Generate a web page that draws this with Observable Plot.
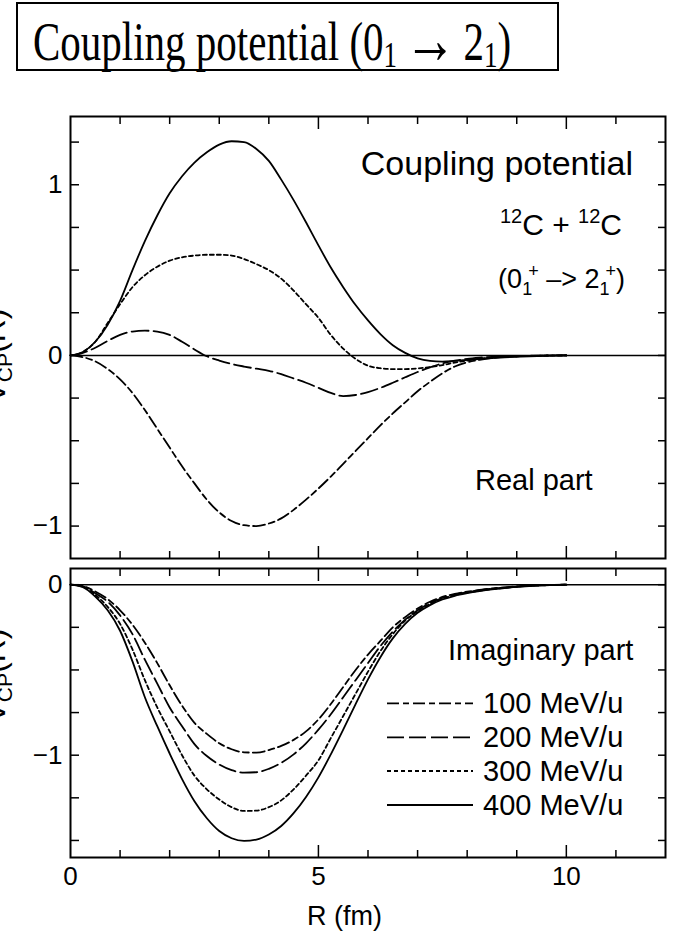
<!DOCTYPE html>
<html><head><meta charset="utf-8">
<script src="https://cdn.jsdelivr.net/npm/d3@7"></script>
<script src="https://cdn.jsdelivr.net/npm/@observablehq/plot@0.6"></script>
<style>
body{margin:0;background:#fff;}
#wrap{position:relative;width:675px;height:937px;overflow:hidden;background:#fff;}
#wrap > svg{position:absolute;left:0;}
</style></head><body><div id="wrap"></div>
<script>
// ---- data ----
const R = [0,0.25,0.5,0.75,1,1.25,1.5,1.75,2,2.25,2.5,2.75,3,3.25,3.5,3.75,4,4.25,4.5,4.75,5,5.25,5.5,5.75,6,6.25,6.5,6.75,7,7.25,7.5,7.75,8,8.25,8.5,8.75,9,9.25,9.5,9.75,10];

const energies = ["100", "200", "300", "400"];
const legendLabels = ["100 MeV/u", "200 MeV/u", "300 MeV/u", "400 MeV/u"];

// Real part
const real100 = [0,-0.01,-0.035,-0.08,-0.14,-0.22,-0.32,-0.43,-0.54,-0.65,-0.75,-0.845,-0.92,-0.97,-0.995,-1.0,-0.985,-0.955,-0.905,-0.845,-0.78,-0.71,-0.635,-0.56,-0.485,-0.41,-0.34,-0.275,-0.21,-0.155,-0.105,-0.065,-0.04,-0.026,-0.015,-0.009,-0.005,-0.003,-0.001,0,0];
const real200 = [0,0.015,0.045,0.085,0.12,0.14,0.145,0.14,0.12,0.08,0.035,-0.005,-0.03,-0.05,-0.065,-0.078,-0.09,-0.11,-0.135,-0.16,-0.19,-0.22,-0.238,-0.232,-0.215,-0.19,-0.16,-0.128,-0.097,-0.07,-0.047,-0.031,-0.02,-0.013,-0.008,-0.005,-0.003,-0.002,-0.001,0,0];
const real300 = [0,0.02,0.08,0.19,0.30,0.40,0.47,0.52,0.555,0.575,0.585,0.59,0.59,0.585,0.565,0.535,0.50,0.45,0.38,0.30,0.22,0.12,0.04,-0.02,-0.06,-0.075,-0.08,-0.08,-0.076,-0.068,-0.057,-0.042,-0.03,-0.02,-0.013,-0.008,-0.005,-0.003,-0.002,-0.001,0];
const real400 = [0,0.02,0.08,0.18,0.32,0.50,0.67,0.82,0.95,1.05,1.13,1.19,1.235,1.255,1.25,1.21,1.14,1.03,0.91,0.78,0.645,0.515,0.40,0.295,0.205,0.125,0.06,0.015,-0.017,-0.032,-0.036,-0.032,-0.026,-0.02,-0.015,-0.011,-0.008,-0.005,-0.003,-0.001,0];

// Imaginary part
const imag100 = [0,-0.008,-0.04,-0.085,-0.15,-0.235,-0.34,-0.46,-0.59,-0.71,-0.81,-0.875,-0.93,-0.965,-0.983,-0.985,-0.97,-0.945,-0.91,-0.86,-0.79,-0.70,-0.60,-0.50,-0.41,-0.33,-0.25,-0.19,-0.14,-0.1,-0.072,-0.054,-0.041,-0.031,-0.022,-0.016,-0.01,-0.006,-0.003,-0.001,0];
const imag200 = [0,-0.01,-0.05,-0.1,-0.18,-0.29,-0.44,-0.58,-0.72,-0.83,-0.935,-1.005,-1.055,-1.088,-1.102,-1.1,-1.08,-1.045,-0.995,-0.93,-0.85,-0.76,-0.66,-0.56,-0.46,-0.36,-0.275,-0.205,-0.15,-0.108,-0.078,-0.058,-0.044,-0.033,-0.024,-0.017,-0.011,-0.006,-0.003,-0.001,0];
const imag300 = [0,-0.012,-0.06,-0.13,-0.23,-0.38,-0.56,-0.72,-0.86,-1.0,-1.12,-1.2,-1.26,-1.305,-1.327,-1.325,-1.305,-1.265,-1.2,-1.12,-1.03,-0.9,-0.77,-0.64,-0.51,-0.39,-0.29,-0.21,-0.155,-0.112,-0.082,-0.061,-0.047,-0.035,-0.026,-0.018,-0.012,-0.007,-0.004,-0.002,0];
const imag400 = [0,-0.015,-0.07,-0.15,-0.27,-0.45,-0.66,-0.83,-0.99,-1.14,-1.27,-1.37,-1.445,-1.487,-1.503,-1.495,-1.465,-1.415,-1.34,-1.245,-1.13,-0.995,-0.85,-0.70,-0.555,-0.425,-0.315,-0.23,-0.165,-0.12,-0.087,-0.065,-0.05,-0.038,-0.028,-0.02,-0.013,-0.008,-0.004,-0.002,0];

// tick values
const xMinorTicks = [1,2,3,4,6,7,8,9,11];
const xMajorTicks = [5,10];
const xTickLabels = [0,5,10];
const yTicksTop = [-1,-0.75,-0.5,-0.25,0,0.25,0.5,0.75,1,1.25];
const yLabelsTop = [-1,0,1];
const yTicksBottom = [-1.5,-1.25,-1,-0.75,-0.5,-0.25,0];
const yLabelsBottom = [-1,0];

(function () {
// ---- styles ----
const dash = {"100": "12,4,6,4", "200": "17,5", "300": "4,3", "400": undefined};
const FONT = "'Liberation Sans', Arial, Helvetica, sans-serif";
const intFmt = d => (d < 0 ? "\u2212" : "") + Math.abs(d);

const toRows = (arr, e) => R.map((r, i) => ({R: r, V: arr[i], E: e}));
const realSeries = {"100": real100, "200": real200, "300": real300, "400": real400};
const imagSeries = {"100": imag100, "200": imag200, "300": imag300, "400": imag400};

function curveMarks(series) {
  return energies.map(e => Plot.line(toRows(series[e], e), {
    x: "R", y: "V", stroke: "black", strokeWidth: 1.8,
    strokeDasharray: dash[e], curve: "monotone-x"
  }));
}

function frameAxes(yTicks, yLabels, showXLabels) {
  const blank = () => "";
  const m = [
    Plot.axisX(xMinorTicks, {anchor: "bottom", tickSize: -7, tickFormat: blank, label: null, strokeWidth: 1.5}),
    Plot.axisX(xMajorTicks, {anchor: "bottom", tickSize: -12, tickFormat: blank, label: null, strokeWidth: 1.5}),
    Plot.axisX(xMinorTicks, {anchor: "top", tickSize: -7, tickFormat: blank, label: null, strokeWidth: 1.5}),
    Plot.axisX(xMajorTicks, {anchor: "top", tickSize: -12, tickFormat: blank, label: null, strokeWidth: 1.5}),
    Plot.axisY(yTicks, {anchor: "left", tickSize: -9, tickFormat: blank, label: null, strokeWidth: 1.5}),
    Plot.axisY(yTicks, {anchor: "right", tickSize: -8, tickFormat: blank, label: null, strokeWidth: 1.5}),
    Plot.axisY(yLabels, {anchor: "left", tickSize: 0, tickPadding: 8, tickFormat: intFmt, label: null})
  ];
  if (showXLabels) m.push(Plot.axisX(xTickLabels, {anchor: "bottom", tickSize: 0, tickPadding: 9, tickFormat: intFmt, label: null}));
  return m;
}

const styleObj = {fontFamily: FONT, fontSize: "26px", color: "black", background: "transparent", overflow: "visible"};

const topPlot = Plot.plot({
  width: 675, height: 562,
  marginTop: 116, marginBottom: 4, marginLeft: 70, marginRight: 10,
  x: {domain: [0, 12]},
  y: {domain: [-1.19, 1.40]},
  style: styleObj,
  marks: [
    Plot.ruleY([0], {stroke: "black", strokeWidth: 1.5}),
    ...curveMarks(realSeries),
    ...frameAxes(yTicksTop, yLabelsTop, false),
    Plot.frame({stroke: "black", strokeWidth: 2})
  ]
});
topPlot.style.top = "0px";

const bottomPlot = Plot.plot({
  width: 675, height: 377,
  marginTop: 8, marginBottom: 80, marginLeft: 70, marginRight: 10,
  x: {domain: [0, 12]},
  y: {domain: [-1.6, 0.095]},
  style: styleObj,
  marks: [
    Plot.ruleY([0], {stroke: "black", strokeWidth: 1.5}),
    ...curveMarks(imagSeries),
    ...frameAxes(yTicksBottom, yLabelsBottom, true),
    Plot.frame({stroke: "black", strokeWidth: 2})
  ]
});
bottomPlot.style.top = "560px";

const wrap = document.getElementById("wrap");
wrap.appendChild(topPlot);
wrap.appendChild(bottomPlot);

// ---- overlay: title box, annotations, legend, axis titles ----
const NS = "http://www.w3.org/2000/svg";
const ov = document.createElementNS(NS, "svg");
ov.setAttribute("width", 675); ov.setAttribute("height", 937);
ov.style.top = "0px";
ov.setAttribute("font-family", FONT);

const legendY = [703.3, 737.3, 771, 805];
let legendSvg = "";
energies.forEach((e, i) => {
  legendSvg += `<line x1="387" x2="473" y1="${legendY[i]}" y2="${legendY[i]}" stroke="black" stroke-width="1.8" ${dash[e] ? `stroke-dasharray="${dash[e]}"` : ""}/>`;
  legendSvg += `<text x="483" y="${legendY[i] + 10}" font-size="29">${legendLabels[i]}</text>`;
});

ov.innerHTML = `
<rect x="17" y="3" width="541" height="67" fill="none" stroke="black" stroke-width="2"/>
<text transform="translate(33,60) scale(1,1.35)" font-family="'Liberation Serif','Times New Roman',serif" font-size="41">Coupling potential (0<tspan font-size="27" dy="5">1</tspan><tspan dy="-5"> </tspan><tspan font-size="52" dy="2" dx="-3">→</tspan><tspan dy="-2" dx="-3"> 2</tspan><tspan font-size="27" dy="5">1</tspan><tspan dy="-5">)</tspan></text>
<text x="633" y="175" font-size="34" text-anchor="end">Coupling potential</text>
<text x="622" y="235" font-size="30" text-anchor="end"><tspan font-size="20" dy="-12">12</tspan><tspan dy="12">C + </tspan><tspan font-size="20" dy="-12">12</tspan><tspan dy="12">C</tspan></text>
<text x="625" y="288" font-size="27" text-anchor="end">(0<tspan font-size="18" dy="7">1</tspan><tspan font-size="18" dx="-4" dy="-18">+</tspan><tspan dy="11"> –&gt; 2</tspan><tspan font-size="18" dy="7">1</tspan><tspan font-size="18" dx="-4" dy="-18">+</tspan><tspan dy="11">)</tspan></text>
<text x="475" y="490" font-size="29">Real part</text>
<text x="448" y="660" font-size="29">Imaginary part</text>
${legendSvg}
<text x="307" y="925" font-size="27">R (fm)</text>
<text transform="translate(5,356) rotate(-90)" font-size="32" text-anchor="middle">V<tspan font-size="21" dy="7">CP</tspan><tspan dy="-7">(R)</tspan></text>
<text transform="translate(5,676) rotate(-90)" font-size="32" text-anchor="middle">V<tspan font-size="21" dy="7">CP</tspan><tspan dy="-7">(R)</tspan></text>
`;
wrap.appendChild(ov);
})();
</script>
</body></html>
